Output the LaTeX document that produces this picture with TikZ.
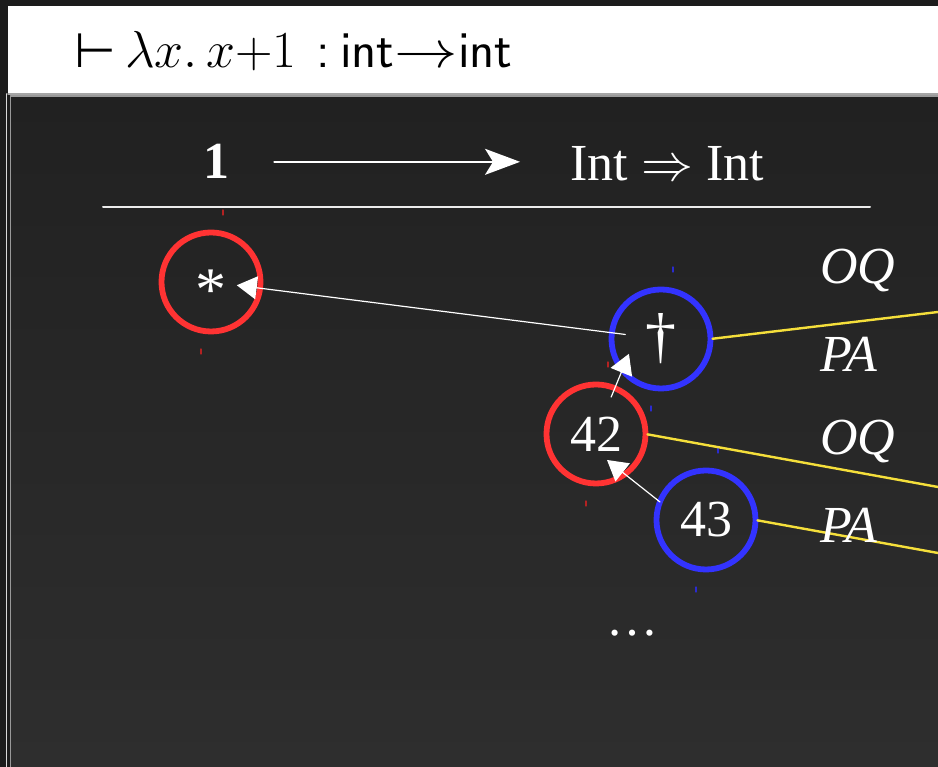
\RequirePackage{fix-cm}
\documentclass[tikz,border=0pt]{standalone}
\usepackage[no-math]{fontspec}
\setmainfont{Liberation Serif}
\newfontfamily\symfam{DejaVu Sans}
\usetikzlibrary{arrows.meta,calc}
\definecolor{deskbg}{HTML}{1C1C1C}
\definecolor{paneltop}{HTML}{212121}
\definecolor{panelbot}{HTML}{2E2E2E}
\definecolor{oppred}{HTML}{FF3333}
\definecolor{plyblue}{HTML}{3333FF}
\definecolor{wire}{HTML}{F5DF3B}
\definecolor{redtick}{HTML}{B42222}
\definecolor{bluetick}{HTML}{2B2BD0}

\begin{document}
\begin{tikzpicture}[x=1pt, y=1pt, line cap=round, line join=round,
  tok/.style={text=white, inner sep=2pt, font=\fontsize{52}{60}\selectfont},
  ring/.style={tok, circle, draw, line width=5.8pt, minimum size=99pt, inner sep=0pt, outer sep=0pt},
  oring/.style={ring, draw=oppred},
  pring/.style={ring, draw=plyblue},
  ptr/.style={white, line width=1.2pt, -{Triangle[length=20pt,width=23pt]}},
  wireline/.style={wire, line width=2.4pt, shorten <=2pt},
  move/.style={tok, font=\fontsize{52}{60}\selectfont\itshape, anchor=base west, inner sep=0pt}]
  \useasboundingbox (0,0) rectangle (938,767);
  % window chrome round the panel
  \fill[deskbg] (0,0) rectangle (938,767);
  \fill[white] (8,674) rectangle (938,761);
  \draw[gray!70, line width=1.5pt] (8,673) -- (938,673);
  \fill[top color=paneltop, bottom color=panelbot] (10,0) rectangle (938,671);
  \draw[gray!80, line width=1.5pt] (10.5,0) -- (10.5,671) -- (938,671);
  \draw[white!85!black, line width=1.5pt] (6.5,0) -- (6.5,673);
  % the typing judgement in the title bar
  \node[anchor=base west, inner sep=0pt, font=\fontsize{52}{60}\selectfont] (judg) at (74,699)
    {{\fontsize{48}{60}\selectfont\symfam ⊢}\hspace{9pt}$\lambda x.\,x{+}1$\hspace{20pt}\textsf{:}\hspace{10pt}\textsf{int}\scalebox{1.22}[1]{$\to$}\textsf{int}};
  % arena header
  \node[tok, anchor=base, font=\fontsize{52}{60}\selectfont\bfseries] (one) at (216,588) {1};
  \node[tok, anchor=base] (arrty) at (667,586) {Int $\Rightarrow$ Int};
  \draw[white, line width=1.8pt, -{Stealth[length=35pt,width=26pt,inset=8pt]}]
    ([xshift=43pt]one.east) -- ([xshift=-48pt]one.east -| arrty.west);
  \draw[white!92!black, line width=2pt] (103,560) -- (870,560);
  % moves of the play
  \node[oring] (star) at (211,485) {\fontsize{62}{60}\selectfont\smash{\raisebox{-29pt}{*}}};
  \node[pring] (dag) at (661,428) {\fontsize{62}{60}\selectfont †};
  \node[oring] (n42) at (596,333) {42};
  \node[pring] (n43) at (706,247) {43};
  \node[tok, anchor=base] (more) at (632,131) {…};
  % little marks above and below each ring
  \foreach \n/\c in {star/redtick, dag/bluetick, n42/redtick, n43/bluetick}{
    \draw[\c, line width=1.3pt] ($(\n.center)+(12,67)$) -- ++(0,5);
    \draw[\c, line width=1.3pt] ($(\n.center)+(-10,-72)$) -- ++(0,5);
  }
  % justification pointers
  \draw[ptr, shorten <=36pt, shorten >=26pt] (dag.center) -- (star.center);
  \draw[ptr, shorten <=40pt, shorten >=16pt] (n42.center) -- ($(dag.center)+(-26,0)$);
  \draw[ptr] ($(n43.center)+(-46,18)$) -- ($(n42.center)+(11,-26)$);
  % links running off to the right
  \coordinate (e1) at (938,455);
  \coordinate (e2) at (938,280);
  \coordinate (e3) at (938,214);
  \draw[wireline] (dag.east) -- (e1);
  \draw[wireline] (n42.east) -- (e2);
  \draw[wireline] (n43.east) -- (e3);
  % move labels
  \node[move] (oq1) at (820,483) {OQ};
  \node[move] (pa1) at (820,395) {PA};
  \node[move] (oq2) at (820,312) {OQ};
  \node[move] (pa2) at (820,224) {PA};
\end{tikzpicture}
\end{document}
